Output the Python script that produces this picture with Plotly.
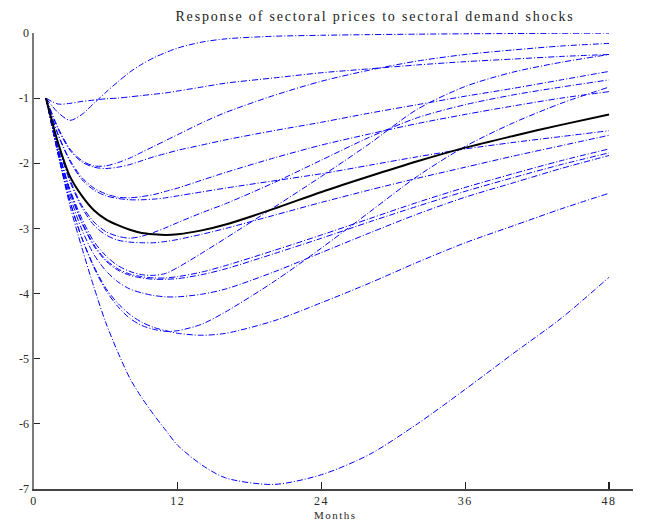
import plotly.graph_objects as go

months = [1, 2, 3, 4, 5, 6, 7, 8, 9, 10, 11, 12, 14, 16, 20, 24, 28, 32, 36, 40, 44, 48]

# Aggregate (average) response - black line
aggregate = [-1, -1.68, -2.2, -2.5, -2.72, -2.86, -2.95, -3.02, -3.07, -3.09, -3.1, -3.09,
             -3.03, -2.94, -2.7, -2.44, -2.2, -1.97, -1.76, -1.58, -1.41, -1.25]

# Sectoral responses - blue dash-dot lines
sector_a = [-1, -1.22, -1.34, -1.25, -1.08, -0.91, -0.75, -0.6, -0.48, -0.38, -0.3, -0.23,
            -0.14, -0.09, -0.05, -0.035, -0.025, -0.018, -0.012, -0.008, -0.004, -0.002]
sector_b = [-1, -1.09, -1.08, -1.05, -1.03, -1.01, -1.0, -0.98, -0.96, -0.94, -0.92, -0.89,
            -0.83, -0.77, -0.69, -0.61, -0.55, -0.49, -0.44, -0.4, -0.36, -0.33]
sector_c = [-1, -1.45, -1.78, -1.96, -2.04, -2.04, -1.99, -1.92, -1.83, -1.74, -1.65, -1.56,
            -1.38, -1.22, -0.96, -0.74, -0.57, -0.43, -0.33, -0.26, -0.2, -0.16]
sector_d = [-1, -1.47, -1.8, -1.98, -2.06, -2.08, -2.06, -2.02, -1.96, -1.9, -1.85, -1.8,
            -1.72, -1.64, -1.5, -1.37, -1.23, -1.1, -0.97, -0.85, -0.72, -0.59]
sector_e = [-1, -1.55, -1.95, -2.22, -2.38, -2.47, -2.52, -2.53, -2.51, -2.48, -2.43, -2.38,
            -2.26, -2.14, -1.92, -1.72, -1.55, -1.39, -1.25, -1.12, -1.0, -0.9]
sector_f = [-1, -1.56, -1.97, -2.25, -2.41, -2.5, -2.54, -2.56, -2.56, -2.55, -2.53, -2.5,
            -2.44, -2.38, -2.27, -2.16, -2.03, -1.9, -1.78, -1.68, -1.59, -1.5]
sector_g = [-1, -1.7, -2.25, -2.65, -2.9, -3.05, -3.12, -3.15, -3.12, -3.06, -2.99, -2.91,
            -2.76, -2.62, -2.3, -1.95, -1.6, -1.3, -1.1, -0.95, -0.83, -0.72]
sector_h = [-1, -1.72, -2.28, -2.68, -2.95, -3.1, -3.18, -3.21, -3.22, -3.22, -3.2, -3.17,
            -3.09, -3.0, -2.8, -2.6, -2.41, -2.23, -2.06, -1.89, -1.73, -1.57]
sector_i = [-1, -1.78, -2.4, -2.85, -3.2, -3.42, -3.57, -3.66, -3.71, -3.72, -3.69, -3.6,
            -3.38, -3.15, -2.68, -2.2, -1.7, -1.17, -0.82, -0.6, -0.45, -0.33]
sector_j = [-1, -1.78, -2.42, -2.9, -3.25, -3.48, -3.62, -3.7, -3.74, -3.76, -3.76, -3.74,
            -3.67, -3.57, -3.34, -3.1, -2.85, -2.6, -2.37, -2.16, -1.96, -1.78]
sector_k = [-1, -1.79, -2.44, -2.92, -3.27, -3.5, -3.64, -3.72, -3.76, -3.78, -3.78, -3.77,
            -3.71, -3.62, -3.39, -3.15, -2.9, -2.66, -2.43, -2.22, -2.02, -1.84]
sector_l = [-1, -1.82, -2.5, -3.02, -3.4, -3.65, -3.82, -3.93, -3.99, -4.03, -4.05, -4.05,
            -4.01, -3.93, -3.67, -3.37, -3.07, -2.78, -2.52, -2.3, -2.08, -1.88]
sector_m = [-1, -1.85, -2.58, -3.15, -3.6, -3.95, -4.2, -4.38, -4.49, -4.55, -4.58, -4.57,
            -4.47, -4.28, -3.82, -3.3, -2.75, -2.2, -1.74, -1.38, -1.08, -0.83]
sector_n = [-1, -1.85, -2.58, -3.15, -3.58, -3.92, -4.15, -4.32, -4.44, -4.52, -4.57, -4.61,
            -4.64, -4.61, -4.42, -4.14, -3.84, -3.52, -3.22, -2.96, -2.7, -2.46]
sector_o = [-1, -1.85, -2.65, -3.3, -3.9, -4.45, -4.9, -5.3, -5.6, -5.86, -6.1, -6.33,
            -6.63, -6.83, -6.93, -6.78, -6.47, -6.0, -5.47, -4.92, -4.38, -3.75]

sectors = [sector_a, sector_b, sector_c, sector_d, sector_e, sector_f, sector_g, sector_h,
           sector_i, sector_j, sector_k, sector_l, sector_m, sector_n, sector_o]

x_ticks = [0, 12, 24, 36, 48]
y_ticks = [0, -1, -2, -3, -4, -5, -6, -7]

SERIF = "Liberation Serif, Times New Roman, serif"

fig = go.Figure()
for s in sectors:
    fig.add_trace(go.Scatter(
        x=months, y=s, mode="lines",
        line=dict(color="#0000FF", width=1, dash="6px,2px,1px,2px", shape="spline", smoothing=0.8),
        hoverinfo="skip", showlegend=False))

fig.add_trace(go.Scatter(
    x=months, y=aggregate, mode="lines",
    line=dict(color="#000000", width=2, shape="spline", smoothing=0.8),
    hoverinfo="skip", showlegend=False))

fig.update_layout(
    width=646, height=523,
    margin=dict(l=34, r=13, t=33, b=34, autoexpand=False),
    paper_bgcolor="white", plot_bgcolor="white",
    font=dict(family=SERIF, size=12, color="#2a2a2a"),
    title=dict(
        text='<span style="letter-spacing:1.8px">Response of sectoral prices to sectoral demand shocks</span>',
        x=375 / 646, xref="container", xanchor="center",
        y=1 - 16 / 523, yref="container", yanchor="middle",
        font=dict(family=SERIF, size=14, color="#222222")),
    showlegend=False,
)

fig.update_xaxes(
    range=[0, 50], tickmode="array", tickvals=x_ticks,
    ticktext=['<span style="letter-spacing:1.5px">%d</span>' % v for v in x_ticks],
    ticks="inside", ticklen=7, tickwidth=1.2, tickcolor="#222222",
    showline=True, linecolor="#444444", linewidth=2,
    showgrid=False, zeroline=False, automargin=False,
    tickfont=dict(family=SERIF, size=12, color="#2a2a2a"))

fig.update_yaxes(
    range=[-7, 0], tickmode="array", tickvals=y_ticks,
    ticktext=[str(v) for v in y_ticks],
    ticks="inside", ticklen=6, tickwidth=1.2, tickcolor="#222222",
    showline=True, linecolor="#7a7a7a", linewidth=2.5,
    showgrid=False, zeroline=False, automargin=False,
    tickfont=dict(family=SERIF, size=12, color="#2a2a2a"))

fig.add_annotation(
    text='<span style="letter-spacing:1.5px">Months</span>',
    xref="paper", yref="paper", x=(335 - 34) / 599, y=-(515 - 489) / 456,
    xanchor="center", yanchor="middle", showarrow=False,
    font=dict(family=SERIF, size=11, color="#2a2a2a"))

fig.write_html(
    "out.html",
    config={"displayModeBar": False, "staticPlot": True},
    post_script="document.body.style.margin='0';document.body.style.overflow='hidden';")
